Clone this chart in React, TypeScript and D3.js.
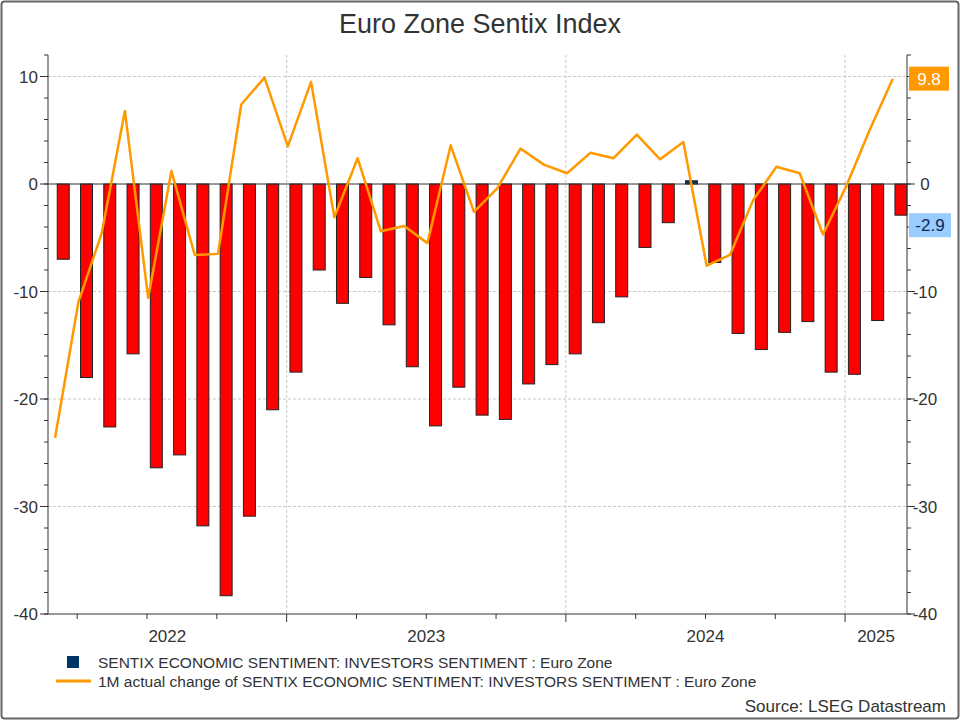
import React from 'react';
import * as d3 from 'd3';

// Monthly values, Mar 2022 .. Mar 2025
const startMonth = 2; // Mar 2022, months counted from Jan 2022
const sentix = [
  -7.0, -18.0, -22.6, -15.8, -26.4, -25.2, -31.8, -38.3, -30.9, -21.0,
  -17.5, -8.0, -11.1, -8.7, -13.1, -17.0, -22.5, -18.9, -21.5, -21.9, -18.6, -16.8,
  -15.8, -12.9, -10.5, -5.9, -3.6, 0.3, -7.3, -13.9, -15.4, -13.8, -12.8, -17.5,
  -17.7, -12.7, -2.9,
];
const change1M = [
  -23.6, -11.0, -4.6, 6.8, -10.6, 1.2, -6.6, -6.5, 7.4, 9.9,
  3.5, 9.5, -3.1, 2.4, -4.4, -3.9, -5.5, 3.6, -2.6, -0.4, 3.3, 1.8,
  1.0, 2.9, 2.4, 4.6, 2.3, 3.9, -7.6, -6.6, -1.5, 1.6, 1.0, -4.7,
  -0.2, 5.0, 9.8,
];
const yTicks = [10, 0, -10, -20, -30, -40];
const years = [2022, 2023, 2024, 2025];
const legendLabels = [
  'SENTIX ECONOMIC SENTIMENT: INVESTORS SENTIMENT : Euro Zone',
  '1M actual change of SENTIX ECONOMIC SENTIMENT: INVESTORS SENTIMENT : Euro Zone',
];

const W = 960, H = 720;
const left = 48, right = 907, top = 55, bottom = 614;
const font = 'Arial, "Liberation Sans", sans-serif';
const orange = '#ff9900';
const navy = '#003366';

export default function App() {
  const x = d3.scaleLinear().domain([1.745, 38.66]).range([left, right]);
  const y = d3.scaleLinear().domain([-40, 12]).range([bottom, top]);
  const barW = 12;

  const line = d3.line<number>()
    .x((_, i) => x(startMonth + i + 0.05))
    .y((d) => y(d));

  const minorY = d3.range(-40, 12.01, 2);
  const qTicks = d3.range(3, 39, 3);
  const janTicks = [12, 24, 36];

  const yearLabelX = (yr: number) => {
    const a = Math.max((yr - 2022) * 12, x.domain()[0]);
    const b = Math.min((yr - 2022 + 1) * 12, x.domain()[1]);
    return (x(a) + x(b)) / 2;
  };

  const last = sentix[sentix.length - 1];
  const lastChg = change1M[change1M.length - 1];

  return (
    <svg width={W} height={H} style={{ position: 'absolute', left: 0, top: 0 }} fontFamily={font}>
      <rect x={0} y={0} width={W} height={H} fill="#fff" />
      <rect x={1.5} y={1.5} width={W - 3} height={H - 3} rx={3} fill="none" stroke="#666" strokeWidth={2} />
      <text x={W / 2} y={33} textAnchor="middle" fontSize={27} fill="#333">Euro Zone Sentix Index</text>

      {/* grid */}
      {yTicks.filter((t) => t !== 0 && t !== -40).map((t) => (
        <line key={'g' + t} x1={left} x2={right} y1={y(t)} y2={y(t)} stroke="#c8c8c8" strokeDasharray="3,2" />
      ))}
      {janTicks.map((m) => (
        <line key={'v' + m} x1={x(m)} x2={x(m)} y1={top} y2={bottom} stroke="#c8c8c8" strokeDasharray="3,2" />
      ))}

      {/* bars */}
      {sentix.map((v, i) => {
        const cx = x(startMonth + i + 0.4);
        return (
          <rect key={'b' + i} x={cx - barW / 2} width={barW}
            y={Math.min(y(v), y(0))} height={Math.abs(y(v) - y(0))}
            fill={v >= 0 ? navy : '#ff0000'} stroke="#222" strokeWidth={1} />
        );
      })}
      <line x1={left} x2={right} y1={y(0)} y2={y(0)} stroke="#333" />

      <path d={line(change1M) || ''} fill="none" stroke={orange} strokeWidth={2.5} strokeLinejoin="round" />

      {/* axes */}
      <line x1={left} x2={left} y1={top} y2={bottom} stroke="#333" />
      <line x1={right} x2={right} y1={top} y2={bottom} stroke="#333" />
      <line x1={left} x2={right} y1={bottom} y2={bottom} stroke="#333" />
      {minorY.map((t) => (
        <g key={'m' + t}>
          <line x1={left - 4} x2={left} y1={y(t)} y2={y(t)} stroke="#333" />
          <line x1={right} x2={right + 4} y1={y(t)} y2={y(t)} stroke="#333" />
        </g>
      ))}
      {yTicks.map((t) => (
        <g key={'t' + t} fontSize={17} fill="#333">
          <line x1={left - 8} x2={left} y1={y(t)} y2={y(t)} stroke="#333" />
          <line x1={right} x2={right + 8} y1={y(t)} y2={y(t)} stroke="#333" />
          <text x={left - 10} y={y(t) + 6} textAnchor="end">{t}</text>
          {t !== 10 && <text x={925} y={y(t) + 6} textAnchor="middle">{t}</text>}
        </g>
      ))}
      {qTicks.map((m) => (
        <line key={'q' + m} x1={x(m)} x2={x(m)} y1={bottom} y2={bottom + (m % 12 === 0 ? 8 : 5)} stroke="#333" />
      ))}
      {years.map((yr) => (
        <text key={yr} x={yearLabelX(yr)} y={642} textAnchor="middle" fontSize={17} fill="#333">{yr}</text>
      ))}

      {/* last-value badges */}
      <rect x={909} y={y(lastChg) - 12} width={40} height={24} fill={orange} />
      <text x={929} y={y(lastChg) + 6} textAnchor="middle" fontSize={17} fill="#fff">{lastChg.toFixed(1)}</text>
      <rect x={909} y={y(last) - 2} width={42} height={24} fill="#99ccff" />
      <text x={930} y={y(last) + 16} textAnchor="middle" fontSize={17} fill="#0a2a55">{last.toFixed(1)}</text>

      {/* legend */}
      <rect x={67} y={656} width={12} height={12} fill={navy} />
      <text x={98} y={668} fontSize={15.5} fill="#333">{legendLabels[0]}</text>
      <line x1={56} x2={91} y1={681} y2={681} stroke={orange} strokeWidth={3} />
      <text x={98} y={687} fontSize={15.5} fill="#333">{legendLabels[1]}</text>

      <text x={946} y={712} textAnchor="end" fontSize={17} fill="#333">Source: LSEG Datastream</text>
    </svg>
  );
}
